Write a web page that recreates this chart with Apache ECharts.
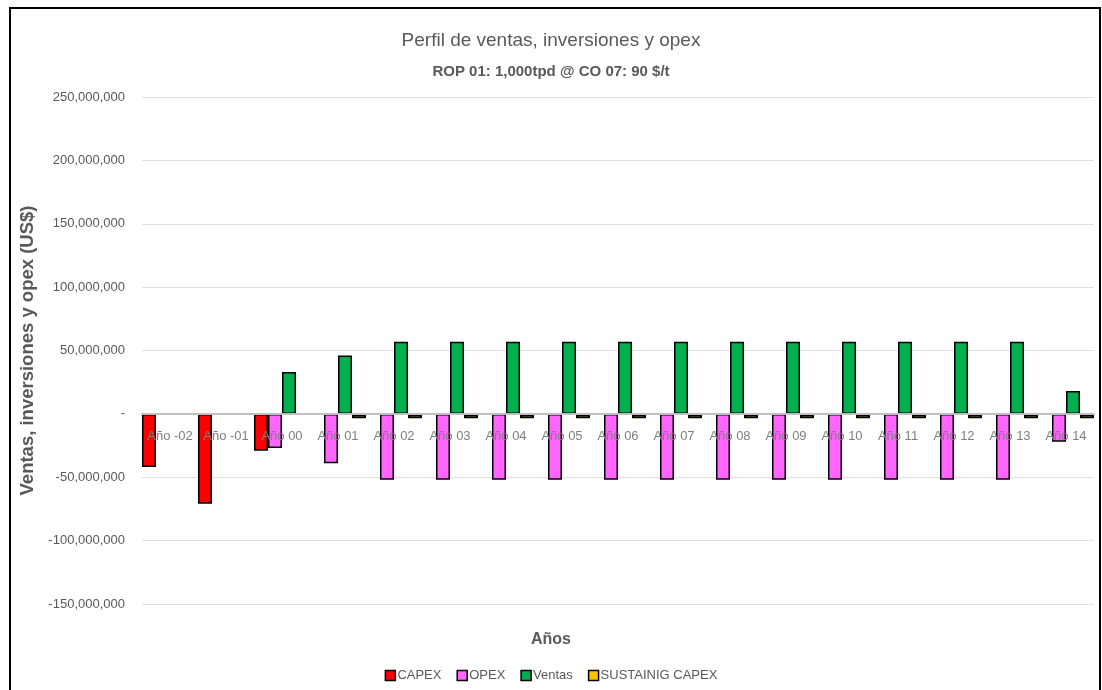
<!DOCTYPE html>
<html><head><meta charset="utf-8">
<script src="https://cdn.jsdelivr.net/npm/echarts@6/dist/echarts.min.js"></script>
<style>html,body{margin:0;padding:0;background:#fff}#c{width:1102px;height:690px}</style>
</head><body><div id="c"></div>
<script>
const categories = ['Año -02','Año -01','Año 00','Año 01','Año 02','Año 03','Año 04','Año 05','Año 06','Año 07','Año 08','Año 09','Año 10','Año 11','Año 12','Año 13','Año 14'];
const capex = [-42e6,-71e6,-29e6,null,null,null,null,null,null,null,null,null,null,null,null,null,null];
const opex = [null,null,-27e6,-39e6,-52e6,-52e6,-52e6,-52e6,-52e6,-52e6,-52e6,-52e6,-52e6,-52e6,-52e6,-52e6,-22e6];
const ventas = [null,null,33e6,46e6,57e6,57e6,57e6,57e6,57e6,57e6,57e6,57e6,57e6,57e6,57e6,57e6,18e6];
const sustaining = [null,null,null,-3.5e6,-3.5e6,-3.5e6,-3.5e6,-3.5e6,-3.5e6,-3.5e6,-3.5e6,-3.5e6,-3.5e6,-3.5e6,-3.5e6,-3.5e6,-3.5e6];
const seriesNames = ['CAPEX','OPEX','Ventas','SUSTAINIG CAPEX'];
const colors = ['#FF0000','#FF66FF','#00B050','#FFC000'];
const yMin = -150e6, yMax = 250e6, yStep = 50e6;
const font = "'Liberation Sans', Arial, sans-serif";
const gridTop = 97, gridBottom = 86, H = 690;
const gridH = H - gridTop - gridBottom;
const zeroOffset = -gridH * (0 - yMin) / (yMax - yMin);
const chart = echarts.init(document.getElementById('c'), null, {renderer:'canvas'});
const mk = (name, data, color, bw) => ({
  name, type:'bar', data, barGap:'0%', barCategoryGap:'0%',
  itemStyle:{color, borderColor:'#000', borderWidth:bw}
});
chart.setOption({
  animation:false,
  textStyle:{fontFamily:font},
  title:[
    {text:'Perfil de ventas, inversiones y opex', left:'center', top:26, textStyle:{fontFamily:font, fontSize:19, fontWeight:'normal', color:'#595959'}},
    {text:'ROP 01: 1,000tpd @ CO 07: 90 $/t', left:'center', top:59, textStyle:{fontFamily:font, fontSize:15, fontWeight:'bold', color:'#595959'}},
    {text:'Años', left:'center', top:627, textStyle:{fontFamily:font, fontSize:16, fontWeight:'bold', color:'#595959'}}
  ],
  graphic:[
    {type:'rect', shape:{x:10, y:8, width:1090, height:690}, style:{fill:'none', stroke:'#000', lineWidth:2}, silent:true}
  ],
  legend:{
    data:seriesNames, left:'center', top:664, itemWidth:10, itemHeight:10, itemGap:15,
    icon:'rect',
    itemStyle:{borderColor:'#000', borderWidth:1.5},
    textStyle:{fontFamily:font, fontSize:13, color:'#595959', padding:[0,0,0,-3]}
  },
  grid:{left:142, right:8, top:gridTop, bottom:gridBottom, containLabel:false},
  xAxis:{
    type:'category', data:categories, position:'bottom', offset:zeroOffset,
    axisLine:{onZero:false, lineStyle:{color:'#bfbfbf', width:2}},
    axisTick:{show:false},
    axisLabel:{color:'#7f7f7f', fontSize:13, margin:16, interval:0, fontFamily:font},
    z:10
  },
  yAxis:{
    type:'value', min:yMin, max:yMax, interval:yStep,
    name:'Ventas, inversiones y opex (US$)', nameLocation:'middle', nameGap:94, nameRotate:90,
    nameTextStyle:{fontFamily:font, fontSize:18.5, fontWeight:'bold', color:'#595959'},
    axisLine:{show:false}, axisTick:{show:false},
    axisLabel:{color:'#595959', fontSize:13, margin:17, fontFamily:font,
      formatter:v => v === 0 ? '-' : v.toLocaleString('en-US')},
    splitLine:{lineStyle:{color:'#e0e0e0', width:1}}
  },
  series:[
    mk(seriesNames[0], capex, colors[0], 1.5),
    mk(seriesNames[1], opex, colors[1], 1.5),
    mk(seriesNames[2], ventas, colors[2], 1.5),
    mk(seriesNames[3], sustaining, colors[3], 2)
  ]
});
</script></body></html>
